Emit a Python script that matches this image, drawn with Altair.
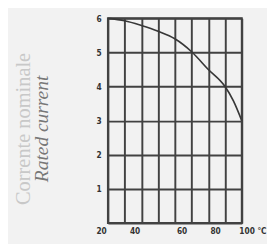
import altair as alt
import pandas as pd

temp = [20, 30, 40, 50, 60, 70, 80, 90, 95, 100]
current = [6.0, 5.93, 5.79, 5.62, 5.4, 5.02, 4.5, 4.0, 3.58, 3.0]

x_grid = [20, 30, 40, 50, 60, 70, 80, 90, 100]
y_ticks = [0, 1, 2, 3, 4, 5, 6]

df = pd.DataFrame({"temp": temp, "current": current})

grid_color = "#424242"
bg = "#f2f2f2"

xs = alt.Scale(domain=[20, 100], nice=False)
ys = alt.Scale(domain=[0, 6], nice=False)

base = alt.Chart(df)

label_offset = {
    "condition": [
        {"test": "datum.value <= 40", "value": -7},
        {"test": "datum.value == 100", "value": -3},
    ],
    "value": 7,
}

line = base.mark_line(color="#383838", strokeWidth=1.7, interpolate="monotone").encode(
    x=alt.X("temp:Q", scale=xs,
            axis=alt.Axis(values=x_grid, title=None, domain=False, ticks=False,
                          grid=True, gridColor=grid_color, gridWidth=2, gridOpacity=1,
                          labelExpr="datum.value % 20 == 0 ? (datum.value == 100 ? '100 °C' : datum.label) : ''",
                          labelFont="DejaVu Sans Condensed", labelFontSize=8.5, labelFontWeight="bold",
                          labelColor="#333333", labelPadding=4,
                          labelFlush=False,
                          labelOffset=label_offset,
                          labelAlign={"condition": {"test": "datum.value == 100", "value": "left"},
                                      "value": "center"})),
    y=alt.Y("current:Q", scale=ys,
            axis=alt.Axis(values=y_ticks, title=None, domain=False, ticks=False,
                          grid=True, gridColor=grid_color, gridWidth=2, gridOpacity=1,
                          labelExpr="datum.value == 0 ? '' : datum.label",
                          labelFont="DejaVu Sans Condensed", labelFontSize=8.5, labelFontWeight="bold",
                          labelColor="#333333", labelPadding=7)),
)

title1 = alt.Chart(pd.DataFrame({"t": ["Corrente nominale"]})).mark_text(
    angle=270, font="Liberation Serif", fontSize=21, color="#c8c8c8", baseline="middle", align="center"
).encode(text="t:N", x=alt.value(-86), y=alt.value(114))

title2 = alt.Chart(pd.DataFrame({"t": ["Rated current"]})).mark_text(
    angle=270, font="Liberation Serif", fontSize=20, fontStyle="italic", color="#777777",
    baseline="middle", align="center"
).encode(text="t:N", x=alt.value(-68), y=alt.value(114))

chart = alt.layer(line, title1, title2).properties(
    width=138, height=211,
    autosize=alt.AutoSizeParams(type="none"),
    padding={"left": 103, "top": 7, "right": 26, "bottom": 18},
    background=bg,
).configure_view(stroke=grid_color, strokeWidth=2)

chart.save("out.html", embed_options={"renderer": "svg", "actions": False})
